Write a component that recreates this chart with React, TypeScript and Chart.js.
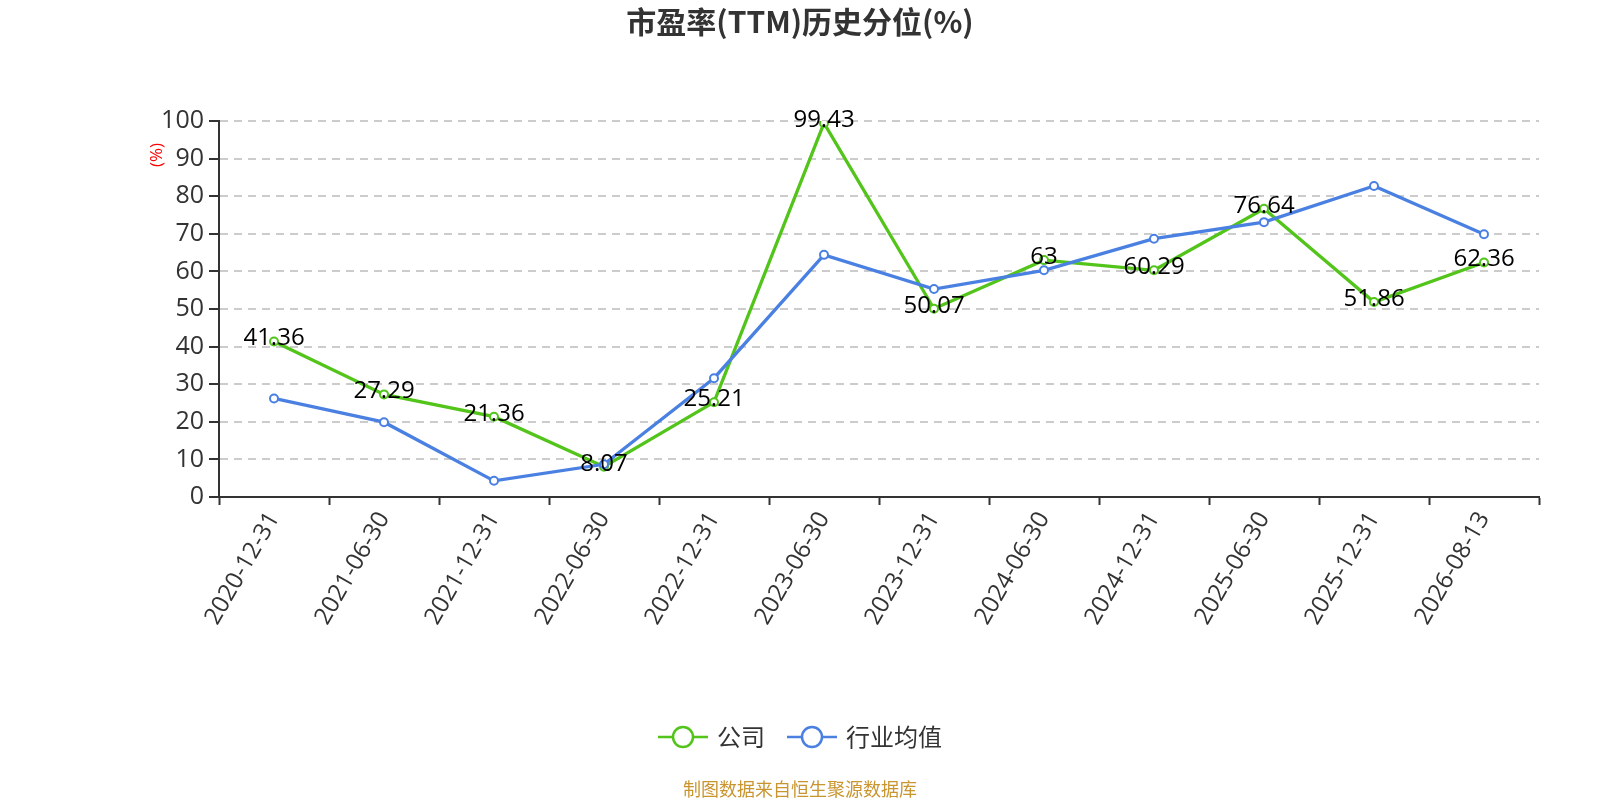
import { useEffect, useRef } from 'react';
import { Chart, registerables } from 'chart.js';

Chart.register(...registerables);

const categories = [
  '2020-12-31', '2021-06-30', '2021-12-31', '2022-06-30', '2022-12-31', '2023-06-30',
  '2023-12-31', '2024-06-30', '2024-12-31', '2025-06-30', '2025-12-31', '2026-08-13',
];
const companyValues = [41.36, 27.29, 21.36, 8.07, 25.21, 99.43, 50.07, 63, 60.29, 76.64, 51.86, 62.36];
const industryValues = [26.2, 19.9, 4.3, 8.7, 31.6, 64.4, 55.3, 60.3, 68.7, 73.1, 82.7, 69.9];
const yTicks = [0, 10, 20, 30, 40, 50, 60, 70, 80, 90, 100];

const GREEN = '#52c41a';
const BLUE = '#4a80e2';
const FONT = "'Open Sans', 'Noto Sans CJK SC', sans-serif";
const CJK = "'Noto Sans CJK SC', 'Open Sans', sans-serif";

// labels + title + legend + footer
const decorations = {
  id: 'decorations',
  afterDatasetsDraw(chart: any) {
    const { ctx } = chart;
    const meta = chart.getDatasetMeta(0);
    ctx.save();
    ctx.font = `24px ${FONT}`;
    ctx.fillStyle = '#000';
    ctx.textAlign = 'center';
    ctx.textBaseline = 'middle';
    meta.data.forEach((pt: any, i: number) => {
      ctx.fillText(String(companyValues[i]), pt.x, pt.y - 3);
    });
    ctx.restore();
  },
  afterDraw(chart: any) {
    const { ctx } = chart;
    ctx.save();
    // title
    ctx.font = `bold 30px ${CJK}`;
    ctx.fillStyle = '#333';
    ctx.textAlign = 'center';
    ctx.textBaseline = 'middle';
    ctx.fillText('市盈率(TTM)历史分位(%)', 800, 22);

    // unit label
    ctx.save();
    ctx.translate(157, 155);
    ctx.rotate(-Math.PI / 2);
    ctx.font = `17px ${FONT}`;
    ctx.fillStyle = '#ff0000';
    ctx.fillText('(%)', 0, 0);
    ctx.restore();

    // legend
    const items = [
      { label: '公司', color: GREEN, x: 658 },
      { label: '行业均值', color: BLUE, x: 787 },
    ];
    const ly = 737;
    items.forEach((it) => {
      ctx.strokeStyle = it.color;
      ctx.lineWidth = 2.5;
      ctx.beginPath();
      ctx.moveTo(it.x, ly);
      ctx.lineTo(it.x + 50, ly);
      ctx.stroke();
      ctx.beginPath();
      ctx.arc(it.x + 25, ly, 10, 0, Math.PI * 2);
      ctx.fillStyle = '#fff';
      ctx.fill();
      ctx.stroke();
      ctx.font = `24px ${CJK}`;
      ctx.fillStyle = '#333';
      ctx.textAlign = 'left';
      ctx.fillText(it.label, it.x + 59, ly);
    });

    // footer
    ctx.font = `18px ${CJK}`;
    ctx.fillStyle = '#c9952f';
    ctx.textAlign = 'center';
    ctx.fillText('制图数据来自恒生聚源数据库', 800, 789);
    ctx.restore();
  },
};

export default function App() {
  const chartRef = useRef<HTMLCanvasElement>(null);

  useEffect(() => {
    if (!chartRef.current) return;
    const ctx = chartRef.current.getContext('2d');
    if (!ctx) return;

    const chart = new Chart(ctx, {
      type: 'line',
      data: {
        labels: categories,
        datasets: [
          {
            label: '公司',
            data: companyValues,
            borderColor: GREEN,
            backgroundColor: GREEN,
            borderWidth: 3.3,
            pointRadius: 4,
            pointBorderWidth: 2,
            pointBackgroundColor: '#fff',
            pointBorderColor: GREEN,
            tension: 0,
            order: 2,
          },
          {
            label: '行业均值',
            data: industryValues,
            borderColor: BLUE,
            backgroundColor: BLUE,
            borderWidth: 3.3,
            pointRadius: 4,
            pointBorderWidth: 2,
            pointBackgroundColor: '#fff',
            pointBorderColor: BLUE,
            tension: 0,
            order: 1,
          },
        ],
      },
      options: {
        responsive: false,
        animation: false,
        layout: { padding: { top: 121, left: 0, right: 61, bottom: 0 } },
        plugins: {
          legend: { display: false },
          title: { display: false },
          tooltip: { enabled: false },
        },
        scales: {
          x: {
            offset: true,
            grid: {
              display: true,
              drawOnChartArea: false,
              drawTicks: true,
              tickLength: 8,
              tickColor: '#333',
              tickWidth: 2,
              offset: true,
            },
            border: { display: true, color: '#333', width: 2 },
            ticks: {
              color: '#333',
              font: { family: FONT, size: 24 },
              maxRotation: 60,
              minRotation: 60,
              padding: 2,
              autoSkip: false,
            },
            afterFit: (scale: any) => {
              scale.height = 303;
            },
          },
          y: {
            min: 0,
            max: 100,
            afterBuildTicks: (scale: any) => {
              scale.ticks = yTicks.map((v) => ({ value: v }));
            },
            grid: {
              color: (c: any) => (c.tick && c.tick.value === 0 ? 'rgba(0,0,0,0)' : '#cccccc'),
              lineWidth: 2,
              tickColor: '#333',
              tickLength: 10,
              tickWidth: 2,
            },
            border: { display: true, color: '#333', width: 2, dash: [8, 6] },
            ticks: {
              color: '#333',
              font: { family: FONT, size: 25 },
              padding: 5,
            },
            afterFit: (scale: any) => {
              scale.width = 219;
            },
          },
        },
      },
      plugins: [decorations],
    });

    return () => chart.destroy();
  }, []);

  return (
    <div style={{ position: 'fixed', left: 0, top: 0, width: 1600, height: 800, background: '#fff' }}>
      <canvas ref={chartRef} width={1600} height={800} />
    </div>
  );
}
